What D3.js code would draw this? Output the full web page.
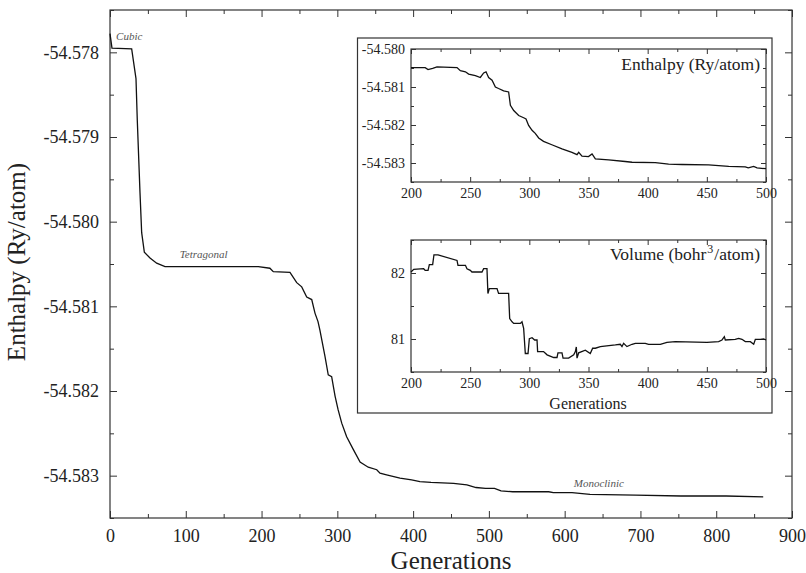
<!DOCTYPE html>
<html>
<head>
<meta charset="utf-8">
<script src="https://cdn.jsdelivr.net/npm/d3@7"></script>
<style>
  body { margin: 0; background: #fff; }
  svg text { font-family: "Liberation Serif", "DejaVu Serif", serif !important; }
  .frame { fill: none; stroke: #333; stroke-width: 1.2; }
  .tick line { stroke: #333; }
  .curve { fill: none; stroke: #111; stroke-width: 1.3; }
  .note { font-style: italic; fill: #555; font-size: 11px; }
</style>
</head>
<body>
<svg id="chart" width="806" height="573"></svg>
<script>
// main run: [generation, enthalpy Ry/atom]
const mainGen = [0, 2.6, 28.6, 34.3, 36, 39.6, 41.8, 45.3, 52.8, 61.6, 72.6, 195.7, 211, 215.5, 237.5, 246.4, 253, 259.6, 266.2, 270.5, 274.5, 277, 283.7, 288, 292.5, 297, 301, 305.8, 312.3, 321, 330, 340.8, 352, 356.3, 365, 382.7, 398, 409, 423.6, 453.4, 471, 483, 495.5, 507.4, 516, 531.4, 579, 585, 609.7, 633.4, 693.5, 753.5, 813, 862];
const mainEnth = [-54.57778, -54.57795, -54.57796, -54.57831, -54.57880, -54.57966, -54.58013, -54.58036, -54.58043, -54.58049, -54.58053, -54.58053, -54.58055, -54.58059, -54.58060, -54.58072, -54.58077, -54.58089, -54.58092, -54.58108, -54.58118, -54.58128, -54.58159, -54.58181, -54.58183, -54.58206, -54.58222, -54.58238, -54.58254, -54.58269, -54.58284, -54.58290, -54.58293, -54.58297, -54.58299, -54.58303, -54.58305, -54.58307, -54.58308, -54.58309, -54.58311, -54.58314, -54.58315, -54.58315, -54.58318, -54.58319, -54.58319, -54.58320, -54.58320, -54.58322, -54.58323, -54.58324, -54.58324, -54.58325];

// inset, enthalpy 200..500
const insetHGen = [200, 212, 214.4, 218.3, 222, 238.9, 241.7, 246, 248.7, 254.4, 258.6, 261.4, 263.4, 265.6, 268.5, 271.3, 274, 278.3, 282.5, 284, 286.8, 291, 295.2, 297.2, 299.4, 302.3, 305, 307.9, 312, 319, 327.6, 336, 340.3, 341.7, 344.5, 350, 353, 355.8, 367, 381, 386.8, 406.5, 417.7, 429, 451.5, 468.5, 482.5, 485, 489.6, 492.4, 500];
const insetHVal = [-54.58049, -54.58049, -54.58054, -54.58051, -54.58047, -54.58049, -54.58057, -54.58060, -54.58066, -54.58070, -54.58075, -54.58063, -54.58060, -54.58075, -54.58082, -54.58100, -54.58104, -54.58110, -54.58113, -54.58148, -54.58162, -54.58175, -54.58181, -54.58184, -54.58201, -54.58214, -54.58222, -54.58234, -54.58243, -54.58252, -54.58263, -54.58272, -54.58278, -54.58272, -54.58282, -54.58283, -54.58276, -54.58289, -54.58292, -54.58296, -54.58298, -54.58299, -54.58303, -54.58304, -54.58305, -54.58309, -54.58310, -54.58313, -54.58309, -54.58313, -54.58315];

// inset, volume bohr^3/atom 200..500
const insetVGen = [200, 202.3, 210.7, 212, 214.4, 215.5, 218.3, 219.4, 222.8, 238.9, 239.7, 246, 247.3, 250.1, 251.5, 260, 261.4, 264.2, 265, 266.2, 272.7, 274, 282.5, 283.4, 285.4, 286.8, 292.4, 293.8, 295.2, 296.6, 298.9, 300, 302.3, 304.5, 306.5, 307, 312, 315, 320.6, 323.4, 324.2, 327.6, 328.5, 333.2, 337.5, 338.9, 339.7, 340.3, 341.7, 347.3, 351.5, 353.5, 355.8, 360, 372.7, 376.9, 378.3, 379.7, 382.5, 386.8, 389.6, 398, 400.8, 410.7, 416.3, 423.4, 450.1, 460, 462.8, 464.8, 465.6, 474, 476.9, 479.7, 482.5, 486.8, 489.6, 491, 495.2, 498, 500];
const insetVVal = [82.015, 82.055, 82.065, 82.04, 82.04, 82.126, 82.126, 82.276, 82.276, 82.19, 82.116, 82.116, 82.065, 82.04, 82.015, 82.015, 82.065, 82.065, 81.69, 81.764, 81.764, 81.69, 81.69, 81.31, 81.26, 81.236, 81.236, 81.26, 81.16, 80.78, 80.78, 81.005, 81.02, 80.985, 80.985, 80.81, 80.81, 80.76, 80.72, 80.72, 80.79, 80.79, 80.71, 80.71, 80.76, 80.81, 80.88, 80.71, 80.79, 80.83, 80.78, 80.86, 80.86, 80.885, 80.91, 80.92, 80.885, 80.935, 80.885, 80.92, 80.935, 80.935, 80.92, 80.92, 80.95, 80.96, 80.95, 80.96, 80.985, 81.035, 80.985, 80.995, 81.01, 80.995, 80.96, 80.96, 80.92, 80.995, 80.995, 81.0, 80.985];

const phaseNames = ["Cubic", "Tetragonal", "Monoclinic"];
const phaseGen = [8, 92, 612];
const phaseEnth = [-54.57786, -54.58043, -54.58313];

const svg = d3.select("#chart");

const x = d3.scaleLinear().domain([0, 900]).range([110, 792]);
const y = d3.scaleLinear().domain([-54.5835, -54.5775]).range([518, 10]);

const ticksInward = (g, axis) => g.call(axis).call((s) => s.select(".domain").remove());

const labelStyle = (g, size) => {
  g.attr("font-family", null).attr("font-size", size);
  g.select(".domain").remove();
  g.selectAll("text").attr("fill", "#222");
};

const drawAxes = (xs, ys, o) => {
  const [x0, x1] = xs.range();
  const [y0, y1] = ys.range();
  // minor ticks
  svg.append("g").attr("transform", `translate(0,${y0})`)
    .call((g) => ticksInward(g, d3.axisTop(xs).tickValues(o.xMinor).tickSize(o.minor).tickFormat("")));
  svg.append("g").attr("transform", `translate(0,${y1})`)
    .call((g) => ticksInward(g, d3.axisBottom(xs).tickValues(o.xMinor).tickSize(o.minor).tickFormat("")));
  svg.append("g").attr("transform", `translate(${x0},0)`)
    .call((g) => ticksInward(g, d3.axisRight(ys).tickValues(o.yMinor).tickSize(o.minor).tickFormat("")));
  svg.append("g").attr("transform", `translate(${x1},0)`)
    .call((g) => ticksInward(g, d3.axisLeft(ys).tickValues(o.yMinor).tickSize(o.minor).tickFormat("")));
  // major ticks + labels
  svg.append("g").attr("transform", `translate(0,${y0})`)
    .call(d3.axisBottom(xs).tickValues(o.xMajor).tickSize(-o.major).tickPadding(o.pad).tickFormat(d3.format("d")))
    .call((g) => labelStyle(g, o.font));
  svg.append("g").attr("transform", `translate(0,${y1})`)
    .call((g) => ticksInward(g, d3.axisTop(xs).tickValues(o.xMajor).tickSize(-o.major).tickFormat("")));
  svg.append("g").attr("transform", `translate(${x0},0)`)
    .call(d3.axisLeft(ys).tickValues(o.yMajor).tickSize(-o.major).tickPadding(o.pad).tickFormat(o.yFmt))
    .call((g) => labelStyle(g, o.font));
  svg.append("g").attr("transform", `translate(${x1},0)`)
    .call((g) => ticksInward(g, d3.axisRight(ys).tickValues(o.yMajor).tickSize(-o.major).tickFormat("")));
  svg.append("rect").attr("class", "frame")
    .attr("x", x0).attr("y", y1).attr("width", x1 - x0).attr("height", y0 - y1);
};

const plainMinus = (f) => (d) => f(d).replace("−", "-");

drawAxes(x, y, {
  xMajor: d3.range(0, 901, 100), xMinor: d3.range(50, 900, 100),
  yMajor: d3.range(-54.583, -54.5777, 0.001), yMinor: d3.range(-54.5835, -54.5774, 0.001),
  major: 7, minor: 4, pad: 11, font: 18, yFmt: plainMinus(d3.format(".3f")),
});

svg.append("path").datum(d3.zip(mainGen, mainEnth)).attr("class", "curve")
  .attr("d", d3.line().x((d) => x(d[0])).y((d) => y(d[1])));

svg.selectAll(".note").data(phaseNames).join("text").attr("class", "note")
  .attr("x", (d, i) => x(phaseGen[i])).attr("y", (d, i) => y(phaseEnth[i])).text((d) => d);

svg.append("text").attr("x", 451).attr("y", 569).attr("text-anchor", "middle")
  .attr("font-size", 25).attr("fill", "#222").text("Generations");
svg.append("text").attr("transform", "translate(25,262) rotate(-90)").attr("text-anchor", "middle")
  .attr("font-size", 25).attr("fill", "#222").text("Enthalpy (Ry/atom)");

// inset
svg.append("rect").attr("x", 357.5).attr("y", 38).attr("width", 414.5).attr("height", 375)
  .attr("fill", "#fff").attr("stroke", "#333").attr("stroke-width", 1.2);

const ix = d3.scaleLinear().domain([200, 500]).range([411, 766]);
const iyH = d3.scaleLinear().domain([-54.5835, -54.58]).range([182, 49]);
const iyV = d3.scaleLinear().domain([80.5, 82.5]).range([372, 240]);

const insetOpts = {
  xMajor: d3.range(200, 501, 50), xMinor: d3.range(225, 500, 50),
  major: 5, minor: 3, pad: 6, font: 14,
};
drawAxes(ix, iyH, Object.assign({}, insetOpts, {
  yMajor: [-54.58, -54.581, -54.582, -54.583], yMinor: [-54.5805, -54.5815, -54.5825, -54.5835],
  yFmt: plainMinus(d3.format(".3f")),
}));
drawAxes(ix, iyV, Object.assign({}, insetOpts, {
  yMajor: [81, 82], yMinor: [80.5, 81.5, 82.5], yFmt: d3.format("d"),
}));

svg.append("path").datum(d3.zip(insetHGen, insetHVal)).attr("class", "curve").attr("stroke-width", 1.1)
  .attr("d", d3.line().x((d) => ix(d[0])).y((d) => iyH(d[1])));
svg.append("path").datum(d3.zip(insetVGen, insetVVal)).attr("class", "curve").attr("stroke-width", 1.1)
  .attr("d", d3.line().x((d) => ix(d[0])).y((d) => iyV(d[1])));

svg.append("text").attr("x", 760).attr("y", 70).attr("text-anchor", "end")
  .attr("font-size", 17.5).attr("fill", "#222").text("Enthalpy (Ry/atom)");
const vt = svg.append("text").attr("x", 760).attr("y", 260).attr("text-anchor", "end")
  .attr("font-size", 17.5).attr("fill", "#222");
vt.append("tspan").text("Volume (bohr");
vt.append("tspan").attr("font-size", 12).attr("dx", 1).attr("dy", -7).text("3");
vt.append("tspan").attr("dx", 1).attr("dy", 7).text("/atom)");
svg.append("text").attr("x", 588).attr("y", 409).attr("text-anchor", "middle")
  .attr("font-size", 16).attr("fill", "#222").text("Generations");
</script>
</body>
</html>
